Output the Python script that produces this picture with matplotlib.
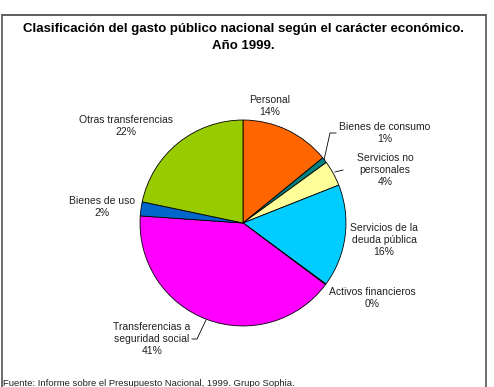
import matplotlib.pyplot as plt
from matplotlib.lines import Line2D

plt.rcParams['font.family'] = ['Liberation Sans', 'DejaVu Sans']

# datos (porcentajes)
categorias = ["Personal", "Bienes de consumo", "Servicios no\npersonales",
              "Servicios de la\ndeuda pública", "Activos financieros",
              "Transferencias a\nseguridad social", "Bienes de uso",
              "Otras transferencias"]
valores = [14.1, 0.9, 4.0, 16.1, 0.1, 40.9, 2.2, 21.7]
etiquetas_pct = ["14%", "1%", "4%", "16%", "0%", "41%", "2%", "22%"]
colores = ["#FF6600", "#008080", "#FFFF99", "#00CCFF", "#CC99FF",
           "#FF00FF", "#0066CC", "#99CC00"]

W, H = 494, 387
fig = plt.figure(figsize=(W / 100, H / 100), dpi=100)

# eje de fondo en pixeles (para textos y marco)
ax = fig.add_axes([0, 0, 1, 1])
ax.set_xlim(0, W)
ax.set_ylim(0, H)
ax.axis('off')

# eje de la torta
cx, cy, r = 243, 223, 104
axp = fig.add_axes([(cx - r) / W, (H - cy - r) / H, 2 * r / W, 2 * r / H])
axp.pie(valores, colors=colores, startangle=90, counterclock=False,
        radius=1, wedgeprops=dict(edgecolor='black', linewidth=0.6))
axp.set_xlim(-1.01, 1.01)
axp.set_ylim(-1.01, 1.01)
axp.axis('off')

# marco
ax.plot([1.5, 1.5, 486, 486], [-5, H - 15, H - 15, -5],
        color='#606060', lw=1.3, clip_on=False)
fig.add_artist(Line2D([1.5 / W, 486 / W], [1 - 15 / H, 1 - 15 / H],
                      transform=fig.transFigure, color='#606060', lw=1.3, zorder=10))

ax.text(243, H - 37.5, "Clasificación del gasto público nacional según el carácter económico.\nAño 1999.",
        ha='center', va='center', fontsize=9.5, fontweight='bold', linespacing=1.45)

# posiciones de las etiquetas (centro del texto)
pos_etiquetas = [(270, 106), (385, 133), (385, 170), (384, 240),
                 (372, 298), (152, 339), (102, 207), (126, 126)]
for cat, pct, (x, y) in zip(categorias, etiquetas_pct, pos_etiquetas):
    ax.text(x, H - y, cat + "\n" + pct, ha='center', va='center',
            fontsize=7.5, color='#222222', linespacing=1.2)

# lineas guia
ax.plot([324, 330, 336], [H - 160, H - 133, H - 133], color='black', lw=0.6)
ax.plot([335, 343], [H - 172, H - 170], color='black', lw=0.6)
ax.plot([206, 197, 192], [H - 320, H - 339, H - 339], color='black', lw=0.6)

ax.text(3, H - 386, "Fuente: Informe sobre el Presupuesto Nacional, 1999. Grupo Sophia.",
        ha='left', va='baseline', fontsize=6.8, color='#222222')

fig.savefig("out.png", dpi=100)
